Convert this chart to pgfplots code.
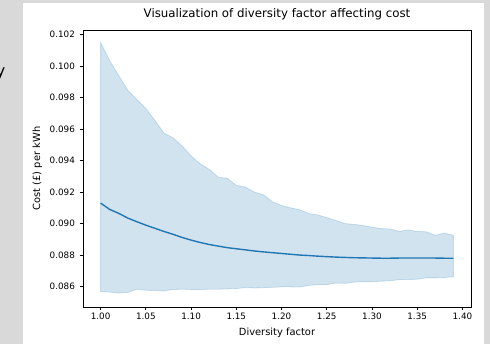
\documentclass[border=0pt]{standalone}
\usepackage{pgfplots}
\pgfplotsset{compat=1.18}
\usepackage{pgfplotstable}
\usepackage{fontspec}
\setmainfont{DejaVu Sans}
\definecolor{tabblue}{HTML}{1F77B4}
\definecolor{bggray}{HTML}{D9D9D9}

% mean curve
\pgfplotstableread{
x     mean
1.00  0.09130
1.01  0.09090
1.02  0.09065
1.03  0.09035
1.04  0.09012
1.05  0.08990
1.06  0.08970
1.07  0.08950
1.08  0.08932
1.09  0.08912
1.10  0.08895
1.11  0.08880
1.12  0.08867
1.13  0.08857
1.14  0.08847
1.15  0.08840
1.16  0.08833
1.17  0.08826
1.18  0.08820
1.19  0.08815
1.20  0.08810
1.21  0.08805
1.22  0.08800
1.23  0.08797
1.24  0.08793
1.25  0.08790
1.26  0.08787
1.27  0.08785
1.28  0.08783
1.29  0.08782
1.30  0.08781
1.31  0.08780
1.32  0.08780
1.33  0.08781
1.34  0.08781
1.35  0.08781
1.36  0.08781
1.37  0.08781
1.38  0.08780
1.39  0.08780
}\meantable

% band: upper bound forward, then lower bound backward
\pgfplotstableread{
x     y
1.00  0.10150
1.01  0.10035
1.02  0.09940
1.03  0.09848
1.04  0.09788
1.05  0.09731
1.06  0.09655
1.07  0.09575
1.08  0.09545
1.09  0.09494
1.10  0.09430
1.11  0.09380
1.12  0.09345
1.13  0.09295
1.14  0.09288
1.15  0.09243
1.16  0.09232
1.17  0.09200
1.18  0.09183
1.19  0.09138
1.20  0.09115
1.21  0.09100
1.22  0.09088
1.23  0.09064
1.24  0.09055
1.25  0.09038
1.26  0.09020
1.27  0.09000
1.28  0.08995
1.29  0.08988
1.30  0.08977
1.31  0.08968
1.32  0.08966
1.33  0.08950
1.34  0.08960
1.35  0.08950
1.36  0.08948
1.37  0.08925
1.38  0.08940
1.39  0.08925
1.39  0.08662
1.38  0.08657
1.37  0.08655
1.36  0.08655
1.35  0.08646
1.34  0.08645
1.33  0.08644
1.32  0.08636
1.31  0.08634
1.30  0.08630
1.29  0.08630
1.28  0.08628
1.27  0.08620
1.26  0.08622
1.25  0.08612
1.24  0.08612
1.23  0.08607
1.22  0.08597
1.21  0.08598
1.20  0.08598
1.19  0.08595
1.18  0.08593
1.17  0.08591
1.16  0.08593
1.15  0.08587
1.14  0.08585
1.13  0.08583
1.12  0.08583
1.11  0.08581
1.10  0.08581
1.09  0.08583
1.08  0.08581
1.07  0.08572
1.06  0.08575
1.05  0.08576
1.04  0.08583
1.03  0.08563
1.02  0.08558
1.01  0.08565
1.00  0.08568
}\bandtable

\begin{document}
\begin{tikzpicture}
\fill[bggray] (0pt,0pt) rectangle (490pt,344pt);
\fill[white] (23pt,0pt) rectangle (484pt,341pt);
\node[anchor=base east, font=\fontsize{16}{18}\selectfont, inner sep=0pt] at (5.5pt,267pt) {y};
\begin{axis}[
  at={(83pt,37pt)}, anchor=south west,
  scale only axis, width=388pt, height=277pt,
  xmin=0.9805, xmax=1.4095, ymin=0.0847, ymax=0.1023,
  xtick={1.00,1.05,1.10,1.15,1.20,1.25,1.30,1.35,1.40},
  ytick={0.086,0.088,0.090,0.092,0.094,0.096,0.098,0.100,0.102},
  scaled y ticks=false, scaled x ticks=false,
  tick align=outside, tick pos=left,
  major tick length=3.4pt,
  every tick/.style={black, line width=0.8pt},
  axis line style={black, line width=0.8pt},
  /pgf/number format/assume math mode=true,
  xticklabel style={font=\fontsize{8.8}{10}\selectfont, inner sep=0pt, yshift=-2pt,
    /pgf/number format/fixed, /pgf/number format/fixed zerofill, /pgf/number format/precision=2},
  yticklabel style={font=\fontsize{8.8}{10}\selectfont, inner sep=0pt, xshift=-4.5pt,
    /pgf/number format/fixed, /pgf/number format/fixed zerofill, /pgf/number format/precision=3},
  title={Visualization of diversity factor affecting cost},
  title style={at={(axis description cs:0.5,1.0217)}, anchor=base, inner sep=0pt, font=\fontsize{11.8}{14}\selectfont},
  xlabel={Diversity factor},
  ylabel={Cost (£) per kWh},
  every axis x label/.style={at={(axis description cs:0.5,-0.1011)}, anchor=base, inner sep=0pt, font=\fontsize{9.9}{12}\selectfont},
  every axis y label/.style={at={(axis description cs:-0.1103,0.5)}, anchor=base, rotate=90, inner sep=0pt, font=\fontsize{9.9}{12}\selectfont},
]
\addplot[fill=tabblue, fill opacity=0.2, draw=tabblue, draw opacity=0.2, line width=0.8pt, forget plot] table[x=x, y=y] {\bandtable} -- cycle;
\addplot[tabblue, line width=1.4pt] table[x=x, y=mean] {\meantable};
\end{axis}
\pgfresetboundingbox
\useasboundingbox (0pt,0pt) rectangle (490pt,344pt);
\end{tikzpicture}
\end{document}
